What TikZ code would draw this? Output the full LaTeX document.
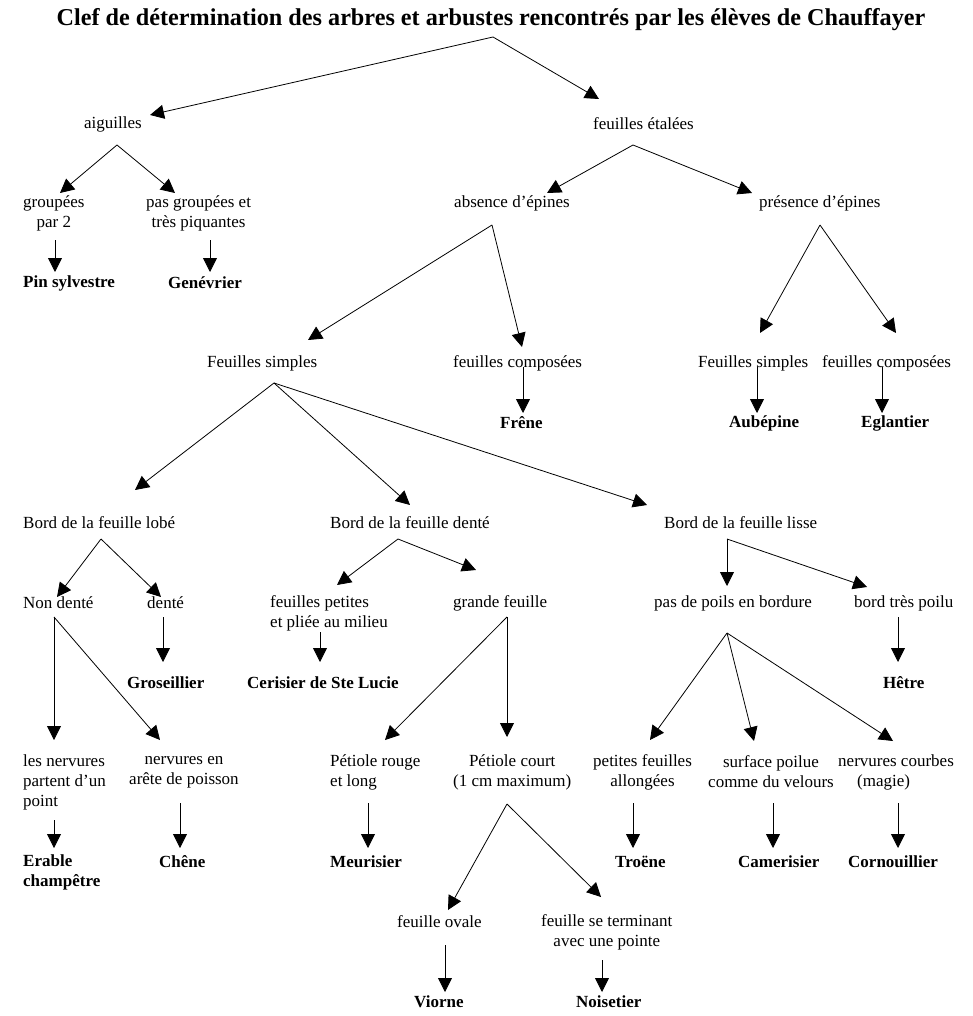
\documentclass[tikz,border=0pt]{standalone}
\usepackage{fontspec}
\setmainfont{Liberation Serif}
\usetikzlibrary{arrows.meta}

\begin{document}
\begin{tikzpicture}[x=1pt,y=-1pt,
  clefText/.style={anchor=west,inner sep=0pt,font=\fontsize{17}{20}\selectfont},
  clefName/.style={clefText,font=\fontsize{17}{20}\selectfont\bfseries},
  clefArrow/.style={-{Triangle[length=14pt,width=14pt]},line width=0.8pt}]

  \useasboundingbox (0,0) rectangle (973,1016);

  \node[font=\fontsize{24.2}{28}\selectfont\bfseries] (title) at (491,20)
    {Clef de détermination des arbres et arbustes rencontrés par les élèves de Chauffayer};

  % aiguilles / feuilles etalees
  \node[clefText] (aig) at (84,124) {aiguilles};
  \node[clefText] (fet) at (593,124) {feuilles étalées};
  \node[clefText,align=center] (grp) at (23,213) {groupées\\par 2};
  \node[clefText,align=center] (pgr) at (146,213) {pas groupées et\\très piquantes};
  \node[clefName] (pin) at (23,283) {Pin sylvestre};
  \node[clefName] (gen) at (168,283) {Genévrier};
  \node[clefText] (abs) at (454,203) {absence d’épines};
  \node[clefText] (pre) at (759,203) {présence d’épines};

  \node[clefText] (fs) at (207,363) {Feuilles simples};
  \node[clefText] (fc) at (453,363) {feuilles composées};
  \node[clefName] (fre) at (500,423) {Frêne};
  \node[clefText] (fs2) at (698,363) {Feuilles simples};
  \node[clefText] (fc2) at (822,363) {feuilles composées};
  \node[clefName] (aub) at (729,423) {Aubépine};
  \node[clefName] (egl) at (861,423) {Eglantier};

  % bords de la feuille
  \node[clefText] (blo) at (23,523) {Bord de la feuille lobé};
  \node[clefText] (bde) at (330,523) {Bord de la feuille denté};
  \node[clefText] (bli) at (664,523) {Bord de la feuille lisse};
  \node[clefText] (nde) at (23,603) {Non denté};
  \node[clefText] (den) at (147,603) {denté};
  \node[clefText,align=left] (fpe) at (270,613) {feuilles petites\\et pliée au milieu};
  \node[clefText] (gfe) at (453,603) {grande feuille};
  \node[clefText] (ppo) at (654,603) {pas de poils en bordure};
  \node[clefText] (btp) at (854,603) {bord très poilu};
  \node[clefName] (gro) at (127,683) {Groseillier};
  \node[clefName] (cer) at (247,683) {Cerisier de Ste Lucie};
  \node[clefName] (het) at (883,683) {Hêtre};

  \node[clefText,align=left] (ner) at (23,782) {les nervures\\partent d’un\\point};
  \node[clefText,align=center] (nea) at (129,772) {nervures en\\arête de poisson};
  \node[clefText,align=left] (pro) at (330,772) {Pétiole rouge\\et long};
  \node[clefText,align=center] (pco) at (453,772) {Pétiole court\\(1 cm maximum)};
  \node[clefText,align=center] (pfa) at (593,772) {petites feuilles\\allongées};
  \node[clefText,align=center] (spo) at (708,772) {surface poilue\\comme du velours};
  \node[clefText,align=left] (nco) at (838,772) {nervures courbes\\\hspace*{19pt}(magie)};
  \node[clefName,align=left] (era) at (23,872) {Erable\\champêtre};
  \node[clefName] (che) at (159,862) {Chêne};
  \node[clefName] (meu) at (330,862) {Meurisier};
  \node[clefName] (tro) at (615,862) {Troëne};
  \node[clefName] (cam) at (738,862) {Camerisier};
  \node[clefName] (cor) at (848,862) {Cornouillier};
  \node[clefText] (fov) at (397,922) {feuille ovale};
  \node[clefText,align=center] (fst) at (541,932) {feuille se terminant\\avec une pointe};
  \node[clefName] (vio) at (414,1002) {Viorne};
  \node[clefName] (noi) at (576,1002) {Noisetier};

  % points de depart des fleches
  \coordinate (titleV) at (493,37);
  \coordinate (aigV) at (117,145);
  \coordinate (fetV) at (633,145);
  \coordinate (absV) at (492,225);
  \coordinate (preV) at (820,225);
  \coordinate (fsV) at (274,383);
  \coordinate (bloV) at (101,539);
  \coordinate (bdeV) at (398,539);
  \coordinate (bliV) at (727,539);
  \coordinate (ndeV) at (54,617);
  \coordinate (gfeV) at (507,617);
  \coordinate (ppoV) at (727,633);
  \coordinate (pcoV) at (507,804);

  \coordinate (grpS) at (55,240);
  \coordinate (pgrS) at (210,240);
  \coordinate (fcS) at (523,367);
  \coordinate (fs2S) at (757,367);
  \coordinate (fc2S) at (882,367);
  \coordinate (denS) at (163,617);
  \coordinate (fpeS) at (320,632);
  \coordinate (btpS) at (898,617);
  \coordinate (nerS) at (54,820);
  \coordinate (neaS) at (180,803);
  \coordinate (proS) at (368,803);
  \coordinate (pfaS) at (633,803);
  \coordinate (spoS) at (773,803);
  \coordinate (ncoS) at (898,803);
  \coordinate (fovS) at (445,945);
  \coordinate (fstS) at (602,960);

  % fleches
  \draw[clefArrow] (titleV) -- ([shift={(66,-9)}]aig.west);
  \draw[clefArrow] (titleV) -- ([shift={(6,-25)}]fet.west);
  \draw[clefArrow] (aigV) -- ([shift={(37,-20)}]grp.west);
  \draw[clefArrow] (aigV) -- ([shift={(29,-20)}]pgr.west);
  \draw[clefArrow] (grpS) -- ([shift={(32,-11)}]pin.west);
  \draw[clefArrow] (pgrS) -- ([shift={(42,-11)}]gen.west);
  \draw[clefArrow] (fetV) -- ([shift={(93,-10)}]abs.west);
  \draw[clefArrow] (fetV) -- ([shift={(-7,-10)}]pre.west);

  \draw[clefArrow] (absV) -- ([shift={(101,-23)}]fs.west);
  \draw[clefArrow] (absV) -- ([shift={(69,-16)}]fc.west);
  \draw[clefArrow] (preV) -- ([shift={(62,-30)}]fs2.west);
  \draw[clefArrow] (preV) -- ([shift={(74,-30)}]fc2.west);
  \draw[clefArrow] (fcS) -- ([shift={(23,-10)}]fre.west);
  \draw[clefArrow] (fs2S) -- ([shift={(28,-10)}]aub.west);
  \draw[clefArrow] (fc2S) -- ([shift={(21,-10)}]egl.west);

  \draw[clefArrow] (fsV) -- ([shift={(112,-33)}]blo.west);
  \draw[clefArrow] (fsV) -- ([shift={(80,-18)}]bde.west);
  \draw[clefArrow] (fsV) -- ([shift={(-17,-18)}]bli.west);
  \draw[clefArrow] (bloV) -- ([shift={(34,-6)}]nde.west);
  \draw[clefArrow] (bloV) -- ([shift={(14,-6)}]den.west);
  \draw[clefArrow] (bdeV) -- ([shift={(67,-28)}]fpe.west);
  \draw[clefArrow] (bdeV) -- ([shift={(23,-33)}]gfe.west);
  \draw[clefArrow] (bliV) -- ([shift={(73,-17)}]ppo.west);
  \draw[clefArrow] (bliV) -- ([shift={(13,-16)}]btp.west);
  \draw[clefArrow] (denS) -- ([shift={(36,-21)}]gro.west);
  \draw[clefArrow] (fpeS) -- ([shift={(73,-21)}]cer.west);
  \draw[clefArrow] (btpS) -- ([shift={(15,-21)}]het.west);

  \draw[clefArrow] (ndeV) -- ([shift={(31,-42)}]ner.west);
  \draw[clefArrow] (ndeV) -- ([shift={(31,-32)}]nea.west);
  \draw[clefArrow] (gfeV) -- ([shift={(55,-32)}]pro.west);
  \draw[clefArrow] (gfeV) -- ([shift={(54,-35)}]pco.west);
  \draw[clefArrow] (ppoV) -- ([shift={(57,-32)}]pfa.west);
  \draw[clefArrow] (ppoV) -- ([shift={(46,-31)}]spo.west);
  \draw[clefArrow] (ppoV) -- ([shift={(55,-31)}]nco.west);
  \draw[clefArrow] (nerS) -- ([shift={(31,-24)}]era.west);
  \draw[clefArrow] (neaS) -- ([shift={(21,-14)}]che.west);
  \draw[clefArrow] (proS) -- ([shift={(38,-14)}]meu.west);
  \draw[clefArrow] (pfaS) -- ([shift={(18,-14)}]tro.west);
  \draw[clefArrow] (spoS) -- ([shift={(35,-14)}]cam.west);
  \draw[clefArrow] (ncoS) -- ([shift={(50,-14)}]cor.west);

  \draw[clefArrow] (pcoV) -- ([shift={(51,-12)}]fov.west);
  \draw[clefArrow] (pcoV) -- ([shift={(60,-35)}]fst.west);
  \draw[clefArrow] (fovS) -- ([shift={(31,-10)}]vio.west);
  \draw[clefArrow] (fstS) -- ([shift={(26,-10)}]noi.west);

\end{tikzpicture}
\end{document}
